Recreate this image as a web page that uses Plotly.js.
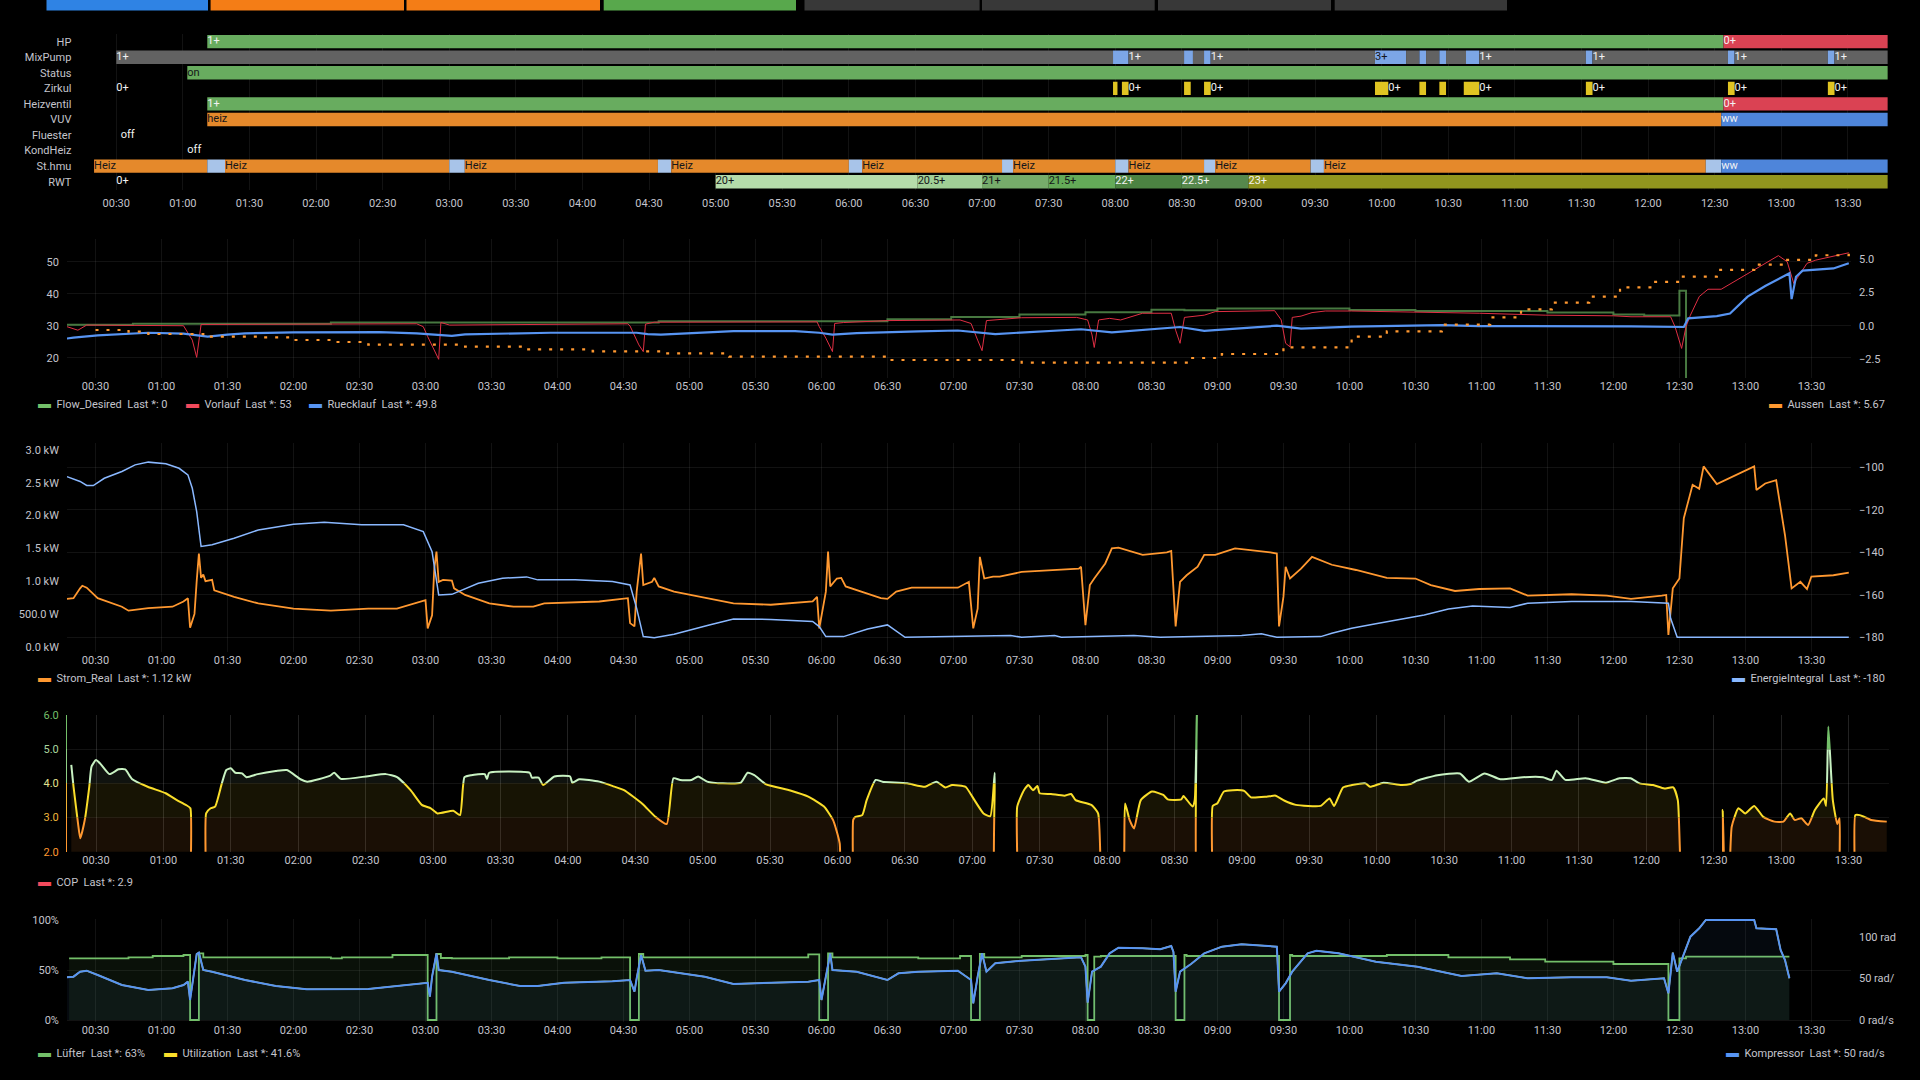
<!DOCTYPE html>
<html><head><meta charset="utf-8">
<script src="https://cdn.plot.ly/plotly-3.0.1.min.js"></script>
<style>html,body{margin:0;padding:0;background:#000;overflow:hidden}#chart{width:1920px;height:1080px}</style>
</head><body><div id="chart"></div>
<script>
// ---------------- DATA ----------------
const DAY = '2024-01-15';
const rowNames = ['HP','MixPump','Status','Zirkul','Heizventil','VUV','Fluester','KondHeiz','St.hmu','RWT'];
const hpT = ['01:11','12:34','13:48'];            const hpS = ['1+','0+'];
const mixT = ['00:30','07:59','08:06','08:31','08:35','08:40','08:43','09:57','10:11','10:17','10:20','10:26','10:29','10:38','10:44','11:32','11:35','12:36','12:39','13:21','13:24','13:48'];
const mixS = ['1+','3+','1+','3+','1+','3+','1+','3+','1+','3+','1+','3+','1+','3+','1+','3+','1+','3+','1+','3+','1+'];
const statusT = ['01:02','13:48'];                const statusS = ['on'];
const zirkT = ['00:30','07:59','08:01','08:03','08:06','08:31','08:34','08:40','08:43','09:57','10:03','10:17','10:20','10:26','10:29','10:37','10:44','11:32','11:35','12:36','12:39','13:21','13:24','13:48'];
const zirkS = ['0+','1+','0+','1+','0+','1+','0+','1+','0+','1+','0+','1+','0+','1+','0+','1+','0+','1+','0+','1+','0+','1+','0+'];
const ventilT = ['01:11','12:34','13:48'];        const ventilS = ['1+','0+'];
const vuvT = ['01:11','12:33','13:48'];           const vuvS = ['heiz','ww'];
const fluesterT = ['00:32','13:48'];              const fluesterS = ['off'];
const kondT = ['01:02','13:48'];                  const kondS = ['off'];
const hmuT = ['00:20','01:11','01:19','03:00','03:07','04:34','04:40','06:00','06:06','07:09','07:14','08:00','08:06','08:40','08:45','09:28','09:34','12:26','12:33','13:48'];
const hmuS = ['Heiz','-','Heiz','-','Heiz','-','Heiz','-','Heiz','-','Heiz','-','Heiz','-','Heiz','-','Heiz','-','ww'];
const rwtT = ['00:30','05:00','06:31','07:00','07:30','08:00','08:30','09:00','13:48'];
const rwtS = ['0+','20+','20.5+','21+','21.5+','22+','22.5+','23+'];

const flowT = ['00:17','00:47','02:17','04:46','06:30','06:59','07:30','08:00','08:30','08:45','09:00','10:00','10:30','11:30','12:00','12:14','12:30','12:33'];
const flowV = [30.3,30.6,31.0,31.4,32.0,32.7,33.5,34.2,35.0,34.8,35.4,34.9,34.6,34.1,33.5,33.2,40.9,0];

const vorT = ['00:17','00:22','00:26','01:10','01:14','01:16','01:18','02:56','02:59','03:01',
 '03:06','03:07','03:11','04:32','04:33','04:37','04:39','04:40','04:44','05:58',
 '05:59','06:02','06:05','06:06','06:10','06:30','07:03','07:08','07:11','07:13',
 '07:15','07:25','07:31','07:56','08:01','08:03','08:04','08:06','08:11','08:16',
 '08:26','08:39','08:41','08:43','08:45','08:54','08:59','09:26','09:29','09:31',
 '09:33','09:34','09:38','09:43','09:49','10:01','10:31','10:59','11:29','12:00',
 '12:08','12:26','12:28','12:31','12:33','12:35','12:39','12:43','12:49','12:56',
 '13:04','13:15','13:19','13:22','13:24','13:28','13:32','13:40','13:47'];
const vorV = [29.7,28.6,30.2,30.0,25.5,20.1,30.4,30.6,29.7,26.6,
 19.5,31.0,30.2,30.6,29.9,24.0,21.9,30.5,31.1,31.2,
 29.7,26.1,21.9,30.7,31.0,31.6,31.8,30.7,25.5,22.2,
 31.6,32.3,32.5,32.6,31.8,27.1,23.2,31.8,32.3,31.8,
 33.9,33.9,28.6,24.5,32.6,33.3,34.4,34.7,31.8,24.5,
 23.4,32.6,33.0,34.1,34.6,34.6,34.3,33.9,33.3,33.1,
 32.8,32.8,29.7,22.9,29.7,33.3,39.1,41.4,41.4,44.3,
 47.4,51.9,50.0,43.2,45.3,49.5,50.5,51.6,52.8];

const rueT = ['00:17','00:20','00:31','00:42','00:54','01:10','01:19','01:21','01:30','01:38',
 '02:00','02:39','02:56','03:07','03:12','03:18','03:29','03:57','04:36','04:41',
 '04:47','04:55','05:09','05:20','05:48','05:59','06:05','06:16','06:44','07:02',
 '07:19','07:31','07:58','08:12','08:26','08:43','08:54','09:13','09:27','09:38',
 '10:01','10:42','10:59','12:08','12:32','12:34','12:47','12:53','13:01','13:09',
 '13:20','13:21','13:23','13:26','13:40','13:47'];
const rueV = [26.0,26.3,27.0,27.4,27.8,27.5,26.8,26.6,27.2,27.6,
 27.9,28.0,27.6,27.2,26.8,27.3,27.5,27.8,27.8,27.4,
 27.2,27.5,27.9,28.3,28.3,27.8,27.2,27.7,28.2,28.5,
 27.4,27.9,28.9,27.9,28.6,29.6,28.4,29.2,30.0,29.1,
 29.7,30.2,29.9,29.8,29.6,32.3,33.0,33.8,39.1,42.4,
 46.4,38.3,45.3,47.2,47.9,49.5];

const ausT = ['00:30','00:45','00:54','01:19','01:46','02:00','02:17','02:34','03:18','03:46',
 '04:16','04:47','05:18','06:30','07:31','08:48','09:02','09:30','10:01','10:17',
 '10:42','11:04','11:18','11:32','11:49','12:03','12:18','12:31','12:47','13:04',
 '13:18','13:32','13:47'];
const ausV = [-0.3,-0.43,-0.6,-0.8,-0.85,-1.05,-1.2,-1.4,-1.55,-1.75,
 -1.9,-2.05,-2.3,-2.55,-2.75,-2.4,-2.1,-1.6,-0.8,-0.4,
 0.1,0.65,1.25,1.75,2.2,2.9,3.3,3.7,4.2,4.6,
 4.95,5.3,5.5];

const stromT = ['00:17','00:20','00:23','00:24','00:26','00:31','00:42','00:45','00:54','01:05',
 '01:10','01:12','01:13','01:15','01:16','01:17','01:18','01:19','01:20','01:23',
 '01:24','01:33','01:44','02:00','02:17','02:34','02:47','02:59','03:00','03:01',
 '03:03','03:04','03:05','03:06','03:08','03:12','03:13','03:18','03:29','03:40',
 '03:49','03:54','04:19','04:32','04:33','04:35','04:36','04:38','04:39','04:43',
 '04:44','04:46','04:53','05:20','05:37','05:56','05:58','05:59','06:02','06:03',
 '06:04','06:07','06:09','06:11','06:27','06:30','06:34','06:41','06:52','07:02',
 '07:07','07:09','07:11','07:12','07:14','07:18','07:21','07:31','07:57','07:58',
 '08:00','08:02','08:04','08:09','08:12','08:15','08:26','08:37','08:39','08:41',
 '08:43','08:46','08:51','08:54','08:59','09:08','09:24','09:27','09:28','09:30',
 '09:31','09:33','09:38','09:43','09:52','10:03','10:17','10:30','10:37','10:48',
 '10:59','11:13','11:21','11:41','11:57','12:08','12:22','12:24','12:25','12:27',
 '12:30','12:32','12:36','12:39','12:41','12:47','13:04','13:05','13:09','13:14',
 '13:18','13:21','13:25','13:28','13:30','13:40','13:47'];
const stromV = [0.73,0.74,0.89,0.93,0.90,0.74,0.61,0.55,0.59,0.61,
 0.69,0.74,0.29,0.50,1.00,1.42,1.05,1.10,1.00,1.02,
 0.86,0.76,0.66,0.58,0.55,0.58,0.58,0.69,0.71,0.28,
 0.48,1.19,1.45,0.99,1.02,1.01,0.89,0.79,0.66,0.61,
 0.61,0.66,0.69,0.74,0.36,0.31,0.84,1.42,0.94,0.99,
 1.05,0.92,0.84,0.66,0.64,0.69,0.76,0.28,0.84,1.45,
 0.92,1.04,1.05,0.92,0.74,0.73,0.84,0.90,0.90,0.90,
 0.99,0.28,0.58,1.37,1.04,1.07,1.07,1.14,1.19,1.22,
 0.33,0.94,1.04,1.27,1.50,1.51,1.40,1.44,1.46,0.31,
 0.99,1.09,1.22,1.40,1.40,1.50,1.44,1.42,0.31,0.76,
 1.22,1.04,1.19,1.37,1.25,1.17,1.05,1.04,0.94,0.85,
 0.88,0.89,0.78,0.80,0.78,0.73,0.78,0.79,0.18,0.89,
 1.04,1.96,2.47,2.41,2.75,2.48,2.75,2.39,2.49,2.54,
 1.70,0.89,0.99,0.88,1.07,1.09,1.13];

const energT = ['00:17','00:23','00:26','00:29','00:34','00:42','00:48','00:54','01:02','01:08',
 '01:12','01:14','01:16','01:18','01:23','01:33','01:44','02:00','02:14','02:31',
 '02:50','02:59','03:03','03:06','03:12','03:24','03:35','03:46','03:51','04:08',
 '04:25','04:33','04:36','04:39','04:44','04:53','05:09','05:20','05:37','05:56',
 '05:59','06:02','06:10','06:21','06:30','06:38','07:26','07:31','07:46','07:49',
 '08:22','08:34','09:11','09:20','09:27','09:47','09:52','10:01','10:12','10:23',
 '10:34','10:45','10:56','11:13','11:21','11:41','12:08','12:25','12:26','12:29',
 '13:47'];
const energV = [-104.4,-106.7,-108.6,-108.6,-105.2,-102.0,-98.9,-97.6,-98.4,-100.5,
 -103.6,-109.9,-120.9,-137.3,-136.5,-133.4,-129.5,-126.8,-125.9,-127.1,
 -127.1,-130.3,-139.7,-160.1,-159.8,-154.6,-152.2,-151.6,-153.0,-153.0,
 -153.8,-155.4,-166.4,-179.7,-180.2,-178.6,-174.2,-171.4,-171.6,-172.6,
 -175.0,-179.7,-179.7,-176.1,-174.2,-180.0,-179.2,-180.0,-179.2,-180.0,
 -179.2,-180.0,-179.2,-178.4,-180.0,-179.7,-178.1,-175.8,-173.7,-171.5,
 -169.5,-166.7,-165.3,-166.0,-164.0,-163.2,-163.2,-164.0,-171.1,-180.0,
 -180.0];

const copT = ['00:19','00:20','00:22','00:23','00:25','00:27','00:28','00:30','00:32','00:36',
 '00:40','00:43','00:46','00:53','01:01','01:06','01:10','01:12','01:13','01:18',
 '01:19','01:21','01:23','01:26','01:28','01:30','01:32','01:35','01:37','01:42',
 '01:50','01:55','02:01','02:04','02:14','02:16','02:19','02:31','02:39','02:44',
 '02:50','02:55','02:59','03:02','03:09','03:12','03:14','03:17','03:23','03:24',
 '03:25','03:43','03:44','03:47','03:49','03:54','04:01','04:02','04:05','04:14',
 '04:20','04:25','04:33','04:39','04:44','04:47','04:50','04:55','04:58','05:02',
 '05:09','05:17','05:20','05:23','05:28','05:39','05:47','05:54','05:58','06:01',
 '06:02','06:06','06:07','06:08','06:11','06:13','06:17','06:20','06:31','06:39',
 '06:44','06:48','06:51','06:57','07:00','07:05','07:08','07:10','07:11','07:19',
 '07:20','07:23','07:25','07:27','07:29','07:30','07:35','07:41','07:44','07:46',
 '07:53','07:56','07:59','08:06','08:08','08:10','08:12','08:15','08:20','08:25',
 '08:27','08:33','08:34','08:38','08:39','08:40','08:41','08:46','08:47','08:49',
 '08:52','08:56','09:01','09:04','09:11','09:15','09:19','09:24','09:35','09:39',
 '09:41','09:45','09:49','09:55','09:57','10:03','10:11','10:15','10:18','10:27',
 '10:37','10:41','10:48','10:55','11:05','11:14','11:18','11:20','11:24','11:33',
 '11:42','11:48','11:53','11:57','12:03','12:08','12:12','12:14','12:18','12:33',
 '12:34','12:35','12:36','12:38','12:41','12:44','12:48','12:52','12:57','13:01',
 '13:04','13:06','13:09','13:12','13:15','13:19','13:20','13:21','13:23','13:25',
 '13:26','13:27','13:32','13:33','13:35','13:37','13:40','13:47'];
const copV = [4.54,3.90,2.83,2.39,2.93,3.90,4.49,4.68,4.57,4.27,
 4.41,4.41,4.13,3.90,3.71,3.51,3.37,3.27,0,0,
 3.12,3.27,3.32,4.00,4.39,4.44,4.31,4.29,4.18,4.27,
 4.36,4.39,4.12,4.05,4.22,4.31,4.13,4.21,4.27,4.18,
 3.80,3.37,3.27,3.12,3.20,3.07,4.18,4.24,4.27,4.13,
 4.31,4.31,4.17,4.17,3.95,4.20,4.20,4.02,4.12,4.05,
 3.92,3.80,3.41,3.02,2.81,4.15,4.10,4.10,4.20,4.05,
 4.00,4.02,4.31,4.24,3.98,3.79,3.61,3.32,2.93,2.24,
 0,0,2.93,3.02,3.07,3.51,4.10,4.05,4.00,3.90,
 4.05,3.88,3.95,3.90,3.61,3.12,3.04,4.31,0,0,
 3.32,3.80,3.95,3.80,3.92,3.71,3.69,3.64,3.69,3.51,
 3.37,3.12,0,0,3.41,2.93,2.68,3.51,3.76,3.66,
 3.53,3.53,3.63,3.32,3.51,6.30,0,0,3.34,3.41,
 3.76,3.80,3.78,3.59,3.61,3.64,3.49,3.37,3.34,3.56,
 3.34,3.88,3.95,4.00,3.90,4.02,3.95,3.98,4.08,4.24,
 4.29,4.05,4.29,4.12,4.18,4.18,4.10,4.37,4.10,4.15,
 4.02,4.15,4.15,4.00,3.95,3.85,3.88,3.51,0,0,
 3.22,0,0,2.73,3.27,3.12,3.34,3.02,2.88,2.88,
 3.12,2.93,2.98,2.78,3.22,3.56,3.34,5.66,3.51,2.81,
 2.98,0,0,3.07,3.07,3.02,2.93,2.88];

const luefterT = ['00:18','00:45','00:56','01:10','01:13','01:17','01:19','02:17','02:22','02:45',
 '03:01','03:05','03:07','03:12','03:38','04:00','04:20','04:33','04:37','04:39',
 '05:54','05:59','06:03','06:05','06:44','07:03','07:08','07:12','07:14','07:31',
 '08:00','08:01','08:04','08:07','08:41','08:45','08:46','09:28','09:33','09:34',
 '10:17','10:45','11:13','11:29','12:00','12:25','12:30','12:33','13:20'];
const luefterV = [61.7,62.7,64.0,65.0,0,66.7,62.7,61.7,62.7,65.0,
 0,66.0,62.0,61.7,62.7,61.7,62.7,0,66.0,62.7,
 65.7,0,66.7,62.7,61.7,64.0,0,66.0,62.7,64.0,
 65.0,0,63.3,64.0,0,65.0,64.0,0,65.0,64.0,
 65.0,62.7,60.7,58.3,56.0,0,61.7,63.3,63.3];

const kompT = ['00:17','00:20','00:23','00:26','00:31','00:42','00:54','01:05','01:10','01:12',
 '01:13','01:14','01:16','01:17','01:19','01:23','01:38','01:52','02:06','02:34',
 '02:56','03:01','03:02','03:03','03:05','03:06','03:12','03:29','03:43','03:51',
 '04:03','04:25','04:33','04:35','04:36','04:38','04:40','04:46','05:07','05:20',
 '05:54','05:59','06:00','06:02','06:04','06:05','06:16','06:30','06:35','06:44',
 '07:02','07:08','07:09','07:11','07:13','07:15','07:19','07:31','07:58','08:00',
 '08:01','08:03','08:07','08:11','08:15','08:26','08:34','08:39','08:40','08:41',
 '08:43','08:48','08:54','09:02','09:11','09:27','09:28','09:31','09:34','09:41',
 '09:45','09:55','10:12','10:31','10:51','11:07','11:21','11:41','11:57','12:08',
 '12:23','12:25','12:27','12:29','12:32','12:35','12:39','12:42','13:04','13:05',
 '13:14','13:16','13:18','13:20'];
const kompV = [51.2,52.0,58.0,59.2,54.0,42.0,36.0,38.0,42.0,46.0,
 24.0,44.0,79.2,80.8,60.0,58.0,48.0,40.8,36.8,37.2,
 43.2,44.6,28.0,52.0,80.0,60.0,58.0,48.0,40.8,40.8,
 44.8,46.4,48.0,34.0,50.0,78.0,59.2,60.0,52.0,43.2,
 46.0,48.0,24.0,52.0,80.0,60.0,58.0,48.0,56.0,58.0,
 59.2,48.0,20.0,52.0,80.0,58.0,68.0,71.2,75.2,64.0,
 20.8,58.0,64.0,80.0,86.8,86.0,84.8,88.8,81.6,34.0,
 58.0,67.2,80.0,88.0,90.8,88.0,34.0,44.0,58.0,80.0,
 83.2,80.0,70.0,64.0,52.8,56.0,50.0,51.2,51.2,47.2,
 50.0,32.0,80.8,58.0,80.0,100.0,110.0,120.0,120.0,110.0,
 108.8,84.0,72.0,50.0];
const utilV = [42.7,43.3,48.3,49.3,45.0,35.0,30.0,31.7,35.0,38.3,
 20.0,36.7,66.0,67.3,50.0,48.3,40.0,34.0,30.7,31.0,
 36.0,37.2,23.3,43.3,66.7,50.0,48.3,40.0,34.0,34.0,
 37.3,38.7,40.0,28.3,41.7,65.0,49.3,50.0,43.3,36.0,
 38.3,40.0,20.0,43.3,66.7,50.0,48.3,40.0,46.7,48.3,
 49.3,40.0,16.7,43.3,66.7,48.3,56.7,59.3,62.7,53.3,
 17.3,48.3,53.3,66.7,72.3,71.7,70.7,74.0,68.0,28.3,
 48.3,56.0,66.7,73.3,75.7,73.3,28.3,36.7,48.3,66.7,
 69.3,66.7,58.3,53.3,44.0,46.7,41.7,42.7,42.7,39.3,
 41.7,26.7,67.3,48.3,66.7,83.3,91.7,100.0,100.0,91.7,
 90.7,70.0,60.0,41.7];

const tempTicks = [20,30,40,50];
const aussenTicks = [-2.5,0,2.5,5];
const powerTicks = [0,0.5,1,1.5,2,2.5,3];
const powerTickText = ['0.0 kW','500.0 W','1.0 kW','1.5 kW','2.0 kW','2.5 kW','3.0 kW'];
const energTicks = [-180,-160,-140,-120,-100];
const copTicks = [2,3,4,5,6];
const copTickText = ['2.0','3.0','4.0','5.0','6.0'];
const pctTicks = [0,50,100];
const pctTickText = ['0%','50%','100%'];
const radTicks = [0,50,100];
const radTickText = ['0 rad/s','50 rad/','100 rad'];

const legends = [
  {text:'Flow_Desired\u00a0 Last *: 0', color:'#73bf69', x:36, y:404, side:'left'},
  {text:'Vorlauf\u00a0 Last *: 53', color:'#f2495c', x:184, y:404, side:'left'},
  {text:'Ruecklauf\u00a0 Last *: 49.8', color:'#5794f2', x:307, y:404, side:'left'},
  {text:'Aussen\u00a0 Last *: 5.67', color:'#ff9830', x:1887, y:404, side:'right'},
  {text:'Strom_Real\u00a0 Last *: 1.12 kW', color:'#ff9830', x:36, y:677, side:'left'},
  {text:'EnergieIntegral\u00a0 Last *: -180', color:'#8ab8ff', x:1887, y:677, side:'right'},
  {text:'COP\u00a0 Last *: 2.9', color:'#f2495c', x:36, y:881, side:'left'},
  {text:'Lüfter\u00a0 Last *: 63%', color:'#73bf69', x:36, y:1052, side:'left'},
  {text:'Utilization\u00a0 Last *: 41.6%', color:'#fade2a', x:162, y:1052, side:'left'},
  {text:'Kompressor\u00a0 Last *: 50 rad/s', color:'#5794f2', x:1887, y:1052, side:'right'}
];

// ---------------- STYLE / BUILD ----------------
const FONT = 'Roboto, "Noto Sans", sans-serif';
const FS = 11;
const TXT = '#c4c4cc';
const GRID = 'rgba(255,255,255,0.07)';
const W = 1920, H = 1080;
const T = t => DAY + ' ' + t + ':00';
const MIN = t => { const p = t.split(':').map(Number); return p[0]*60 + p[1]; };
const fx = (a,b) => [a/W, b/W];
const fy = (top,bottom) => [1-bottom/H, 1-top/H];

const GREEN='rgb(104,172,95)', RED='rgb(218,66,83)', ORANGE='rgb(229,137,43)', BLUE='rgb(78,133,218)';
const NONE='rgba(0,0,0,0)';
const rowColors = {
  'HP': {'1+':GREEN,'0+':RED},
  'MixPump': {'1+':'rgb(98,98,98)','3+':'rgb(124,166,230)'},
  'Status': {'on':GREEN},
  'Zirkul': {'0+':NONE,'1+':'rgb(224,196,34)'},
  'Heizventil': {'1+':GREEN,'0+':RED},
  'VUV': {'heiz':ORANGE,'ww':BLUE},
  'Fluester': {'off':NONE},
  'KondHeiz': {'off':NONE},
  'St.hmu': {'Heiz':ORANGE,'-':'rgb(168,196,233)','ww':BLUE},
  'RWT': {'0+':NONE,'20+':'rgb(181,220,170)','20.5+':'rgb(160,207,150)','21+':'rgb(118,172,106)','21.5+':'rgb(100,170,88)','22+':'rgb(76,131,66)','22.5+':'rgb(86,136,76)','23+':'rgb(145,149,30)'}
};
const darkText = new Set(['on','heiz','Heiz','3+','20+','20.5+','21+','21.5+']);
const rowData = [['HP',hpT,hpS],['MixPump',mixT,mixS],['Status',statusT,statusS],['Zirkul',zirkT,zirkS],
  ['Heizventil',ventilT,ventilS],['VUV',vuvT,vuvS],['Fluester',fluesterT,fluesterS],['KondHeiz',kondT,kondS],
  ['St.hmu',hmuT,hmuS],['RWT',rwtT,rwtS]];
const MIN_LABEL_MINUTES = 10;

const traces = [];
const lx=[], ly=[], lt=[], lc=[];
rowData.forEach(([name, bounds, states]) => {
  const base=[], dur=[], y=[], col=[];
  for (let i=0;i<states.length;i++){
    const d = MIN(bounds[i+1])-MIN(bounds[i]);
    base.push(T(bounds[i]));
    dur.push(d*60000);
    y.push(name);
    col.push(rowColors[name][states[i]]);
    if (states[i] !== '-' && d >= MIN_LABEL_MINUTES) {
      lx.push(T(bounds[i])); ly.push(name); lt.push(states[i]);
      lc.push(darkText.has(states[i]) ? '#15161a' : '#f2f2f2');
    }
  }
  traces.push({type:'bar', orientation:'h', xaxis:'x', yaxis:'y', y, x:dur, base, width:0.86,
    marker:{color:col, line:{width:0}}, hoverinfo:'skip', showlegend:false, name});
});
traces.push({type:'scatter', mode:'text', xaxis:'x', yaxis:'y', x:lx, y:ly, text:lt,
  textposition:'middle right', textfont:{family:FONT, size:FS, color:lc}, cliponaxis:false,
  hoverinfo:'skip', showlegend:false});

const line = (name, tArr, vArr, xa, ya, color, width, extra) => Object.assign({
  type:'scatter', mode:'lines', name, x:tArr.map(T), y:vArr, xaxis:xa, yaxis:ya,
  line:{color, width}, hoverinfo:'skip', showlegend:false}, extra||{});

// panel 2
traces.push(line('Flow_Desired', flowT, flowV, 'x2','y2','',0,{line:{color:'rgba(95,160,85,0.75)',width:2,shape:'hv'}}));
traces.push(line('Vorlauf', vorT, vorV, 'x2','y2','#e02f44',1));
traces.push(line('Ruecklauf', rueT, rueV, 'x2','y2','#5794f2',2.2));
traces.push(line('Aussen', ausT, ausV, 'x2','y3','',0,{line:{color:'#ff9830',width:2.2,shape:'hv',dash:'3px,8px'}}));
// panel 3
traces.push(line('Strom_Real', stromT, stromV, 'x3','y4','#ff9830',1.8));
traces.push(line('EnergieIntegral', energT, energV, 'x3','y5','#8ab8ff',1.5));
// panel 4: COP coloured by value bands (base axis carries grid and ticks)
traces.push(line('COP', copT, copV, 'x4', 'y6', 'rgba(0,0,0,0)', 0));
const bands = [
  {ax:'y7', color:'#ff9830', fill:'rgba(255,152,48,0.10)'},
  {ax:'y8', color:'#fade2a', fill:'rgba(250,222,42,0.09)'},
  {ax:'y9', color:'#c8f2c2', fill:'rgba(200,242,194,0.08)'},
  {ax:'y10', color:'#73bf69', fill:'rgba(115,191,105,0.10)'}
];
bands.forEach(b => traces.push(line('COP', copT, copV, 'x4', b.ax, '', 0,
  {line:{color:b.color, width:2, shape:'spline', smoothing:0.5}, fill:'tozeroy', fillcolor:b.fill})));
// panel 5
traces.push(line('Lüfter', luefterT, luefterV, 'x5','y11','',0,{line:{color:'#73bf69',width:1.8,shape:'hv'},fill:'tozeroy',fillcolor:'rgba(115,191,105,0.09)'}));
traces.push(line('Utilization', kompT, utilV, 'x5','y11','#fade2a',1.5));
traces.push(line('Kompressor', kompT, kompV, 'x5','y12','#5794f2',2,{fill:'tozeroy',fillcolor:'rgba(87,148,242,0.06)'}));

const tickfont = {family:FONT, size:FS, color:TXT};
function xax(l, r, anchor, extra){
  return Object.assign({domain:fx(l,r), anchor, type:'date', range:[T('00:17'),T('13:48')],
    tick0:T('00:00'), dtick:1800000, tickformat:'%H:%M', showgrid:true, gridcolor:GRID,
    zeroline:false, showline:false, ticks:'', tickfont, fixedrange:true}, extra||{});
}
function yax(extra){
  return Object.assign({zeroline:false, showline:false, ticks:'', tickfont, gridcolor:GRID, ticklabelstandoff:7, fixedrange:true}, extra);
}
const copPx = v => 851.7 - (v-2)*34.175;
const bandRanges = [[2,3],[3,4],[4,5],[5,6]];
const bandLineColors = ['#ff9830','#f2b233','#8fcf85','#73bf69'];
const copColoredText = copTickText.map((t,i)=>'<span style="color:'+['#ff9830','#efb43a','#e3e08e','#a9d69f','#73bf69'][i]+'">'+t+'</span>');

const layout = {
  width:W, height:H, margin:{l:0,r:0,t:0,b:0},
  paper_bgcolor:'#000', plot_bgcolor:'rgba(0,0,0,0)',
  barmode:'overlay', showlegend:false, hovermode:false,
  font:{family:FONT, size:FS, color:TXT},
  xaxis: xax(87.4, 1887.8, 'y', {ticklabelstandoff:5}),
  yaxis: yax({anchor:'x', domain:fy(33.9,189.5), type:'category', categoryarray:rowNames, categoryorder:'array', autorange:'reversed', showgrid:false, ticklabelstandoff:15}),
  xaxis2: xax(66.9, 1851, 'y2'),
  yaxis2: yax({anchor:'x2', domain:fy(239,378), range:[13.66,57.1], tickvals:tempTicks, showgrid:true}),
  yaxis3: yax({overlaying:'y2', side:'right', anchor:'x2', range:[-3.9,6.52], tickvals:aussenTicks, tickformat:'.1f', showgrid:false}),
  xaxis3: xax(66.9, 1851, 'y4'),
  yaxis4: yax({anchor:'x3', domain:fy(443,651.7), range:[-0.076,3.107], tickvals:powerTicks, ticktext:powerTickText, showgrid:false}),
  yaxis5: yax({overlaying:'y4', side:'right', anchor:'x3', range:[-186.8,-88.6], tickvals:energTicks, showgrid:true}),
  xaxis4: xax(66.8, 1889, 'y6'),
  yaxis6: yax({anchor:'x4', domain:fy(715,851.7), range:[2,6], tickvals:copTicks, ticktext:copColoredText, showgrid:true}),
  xaxis5: xax(66.9, 1851, 'y11'),
  yaxis11: yax({anchor:'x5', domain:fy(919,1021.5), range:[-1.5,101], tickvals:pctTicks, ticktext:pctTickText, showgrid:true}),
  yaxis12: yax({overlaying:'y11', side:'right', anchor:'x5', range:[-1.8,121.2], tickvals:radTicks, ticktext:radTickText, showgrid:false}),
  annotations: [], shapes: []
};
bandRanges.forEach((r,i)=>{
  layout['yaxis'+(7+i)] = {domain:fy(copPx(r[1]), copPx(r[0])), range:r, anchor:'x4',
    showticklabels:false, showgrid:false, zeroline:false, ticks:'', showline:true, linecolor:bandLineColors[i], linewidth:1, fixedrange:true};
});

legends.forEach(l => {
  layout.annotations.push({xref:'paper', yref:'paper', x:l.x/W, y:1-l.y/H,
    xanchor:l.side, yanchor:'middle', showarrow:false,
    text:'<span style="color:'+l.color+';font-size:13px">▬</span>\u00a0 '+l.text,
    font:{family:FONT, size:FS, color:TXT}});
});

// top dashboard tabs (cut-off stat panels)
[[46.5,208,'#2f83e4'],[210.6,404,'#f47d16'],[406.5,600,'#f47d16'],[603.7,796,'#58a84c'],
 [804.5,979.6,'#383838'],[982,1154.7,'#383838'],[1158,1331,'#383838'],[1334.7,1507,'#383838']].forEach(s=>{
  layout.shapes.push({type:'rect', xref:'paper', yref:'paper', x0:s[0]/W, x1:s[1]/W, y0:1-10.5/H, y1:1,
    fillcolor:s[2], line:{width:0}, layer:'above'});
});

Plotly.newPlot('chart', traces, layout, {staticPlot:true, displayModeBar:false});
</script>
</body></html>
